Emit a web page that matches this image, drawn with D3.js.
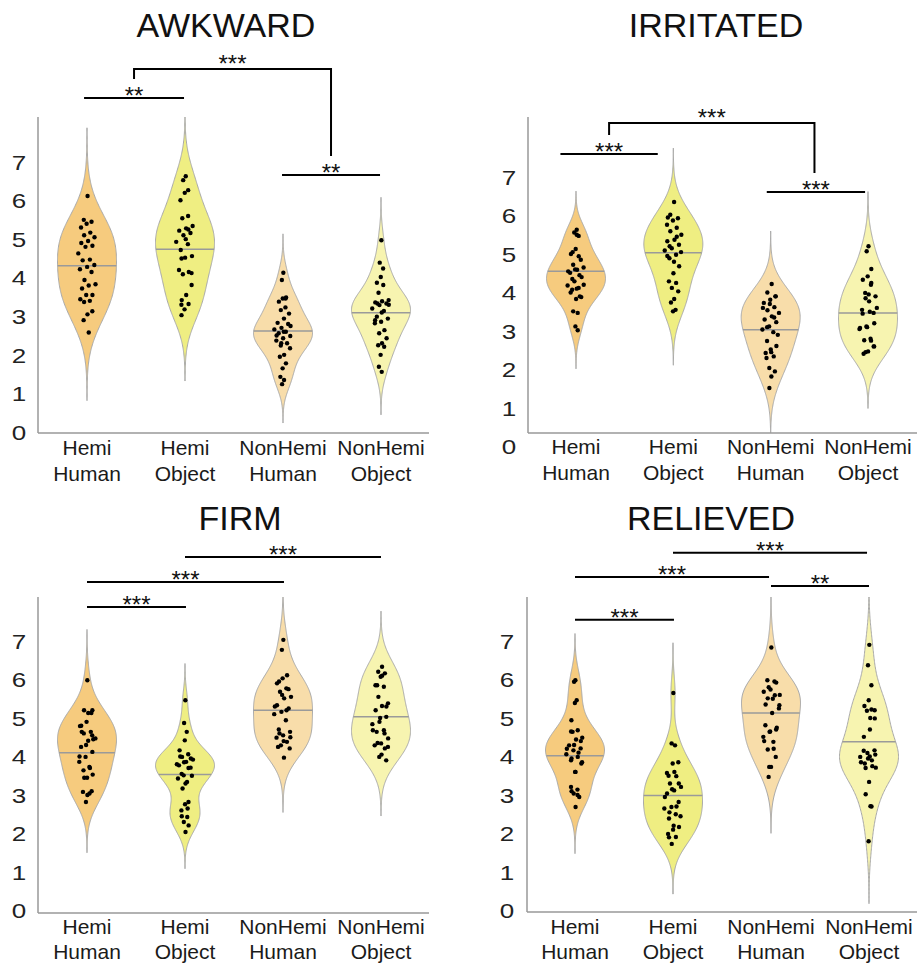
<!DOCTYPE html>
<html><head><meta charset="utf-8">
<script src="https://cdn.jsdelivr.net/npm/d3@7"></script>
<style>
body{margin:0;background:#fff}
svg{display:block}
text{font-family:"Liberation Sans",Arial,Helvetica,sans-serif;fill:#1a1a1a}
</style>
</head><body>
<svg id="c" width="919" height="966"></svg>
<script>
// ---------------- DATA ----------------
const categories = ["Hemi Human", "Hemi Object", "NonHemi Human", "NonHemi Object"];
const catLine1 = ["Hemi", "Hemi", "NonHemi", "NonHemi"];
const catLine2 = ["Human", "Object", "Human", "Object"];
const titles = ["AWKWARD", "IRRITATED", "FIRM", "RELIEVED"];
const yTicks = [0, 1, 2, 3, 4, 5, 6, 7];
const fills = ["#F6CB7E", "#EFEE82", "#F8DDAA", "#F7F4B0"];

const awkwardHemiHuman = [6.12,5.5,5.45,5.4,5.3,5.17,5.1,5.05,4.95,4.9,4.83,4.8,4.63,4.47,4.45,4.33,4.28,4.22,4.15,3.94,3.83,3.8,3.72,3.55,3.55,3.44,3.4,3.37,3.13,3.05,2.9,2.58];
const awkwardHemiObject = [6.63,6.53,6.27,6.2,6.01,5.6,5.54,5.34,5.28,5.22,5.16,5.1,4.93,4.87,4.72,4.56,4.52,4.2,4.15,4.09,3.81,3.55,3.42,3.32,3.18,3.03,5.25,4.5,4.12,5.0,3.3];
const awkwardNonHemiHuman = [4.13,3.94,3.49,3.46,3.38,3.23,3.16,3.07,2.94,2.83,2.8,2.7,2.66,2.6,2.56,2.49,2.43,2.37,2.3,2.24,2.17,2.0,1.95,1.78,1.65,1.43,1.35,1.24,2.75,2.6,2.5,3.46,2.3];
const awkwardNonHemiObject = [4.97,4.39,4.24,4.02,3.87,3.81,3.61,3.42,3.39,3.36,3.33,3.29,3.2,3.14,2.99,2.94,2.86,2.82,2.64,2.56,2.43,2.3,2.25,2.21,2.0,1.69,1.56,3.33,3.3,3.1,2.9];
const awkwardMedians = [4.31, 4.74, 2.62, 3.09];
const awkwardSig = [
  {from: -0.03, to: 0.99, label: "**", level: 8.66},
  {from: 1.99, to: 2.99, label: "**", level: 6.66}
];
const awkwardBracket = {from: 0.48, to: 2.49, label: "***", level: 9.41};

const irritatedHemiHuman = [5.63,5.56,5.47,5.13,5.0,4.94,4.72,4.65,4.59,4.51,4.4,4.29,4.18,4.12,4.07,3.88,3.83,3.51,3.47,3.12,3.02,5.5,5.05,4.85,4.6,4.55,4.45,4.35,4.2,4.1,4.0,3.9];
const irritatedHemiObject = [6.35,6.02,5.93,5.87,5.76,5.68,5.59,5.5,5.37,5.33,5.24,5.15,5.09,4.98,4.89,4.68,4.5,4.29,4.25,4.12,4.03,3.83,3.74,3.55,3.51,5.95,5.45,5.2,5.05,4.8,4.95];
const irritatedNonHemiHuman = [4.22,4.0,3.9,3.81,3.73,3.62,3.54,3.47,3.38,3.3,3.23,3.12,3.04,2.97,2.74,2.61,2.52,2.43,2.34,2.04,1.95,1.82,1.52,3.9,3.7,3.6,3.35,3.1,2.9,2.45,2.3];
const irritatedNonHemiObject = [5.2,5.07,4.61,4.42,4.33,4.2,3.99,3.9,3.77,3.55,3.47,3.12,3.05,2.8,2.76,2.6,2.47,2.41,4.25,3.85,3.6,3.5,3.45,3.2,3.1,3.08,2.75,2.45,2.6,3.95];
const irritatedMedians = [4.55, 5.03, 3.03, 3.47];
const irritatedSig = [
  {from: -0.16, to: 0.84, label: "***", level: 7.6},
  {from: 1.96, to: 2.97, label: "***", level: 6.61}
];
const irritatedBracket = {from: 0.34, to: 2.45, label: "***", level: 8.4};

const firmHemiHuman = [5.98,5.2,5.13,4.9,4.79,4.64,4.6,4.47,4.41,4.25,4.12,3.99,3.86,3.73,3.64,3.53,3.45,3.08,3.04,2.82,5.2,5.13,4.64,4.45,4.3,4.0,3.7,3.45,3.1,3.0,4.8,4.55];
const firmHemiObject = [5.46,4.87,4.64,4.42,4.16,4.06,3.99,3.92,3.86,3.77,3.71,3.51,3.43,3.34,3.17,2.82,2.76,2.6,2.43,2.3,2.21,2.04,4.0,3.95,3.85,3.8,3.7,3.55,3.5,3.3,2.45,2.65];
const firmNonHemiHuman = [7.03,6.77,6.11,6.03,5.9,5.77,5.68,5.55,5.51,5.33,5.25,5.16,5.1,4.94,4.7,4.64,4.55,4.49,4.38,4.29,4.21,3.97,5.95,5.75,5.6,5.3,5.2,4.6,4.5,4.4,4.25];
const firmNonHemiObject = [6.33,6.2,6.16,6.07,5.85,5.81,5.55,5.38,5.31,5.2,5.03,4.9,4.84,4.68,4.64,4.47,4.34,4.29,4.21,3.99,3.9,6.1,5.85,5.3,5.0,4.68,4.6,4.35,4.25,4.05];
const firmMedians = [4.1, 3.53, 5.2, 5.03];
const firmSig = [
  {from: 0, to: 1.01, label: "***", level: 7.88},
  {from: 0, to: 2.01, label: "***", level: 8.53},
  {from: 1, to: 3, label: "***", level: 9.18}
];

const relievedHemiHuman = [5.98,5.94,5.46,5.39,4.94,4.68,4.64,4.49,4.44,4.29,4.21,4.16,4.06,3.99,3.9,3.82,3.6,3.21,3.14,3.04,2.95,2.69,4.65,4.4,4.3,4.2,4.1,3.95,3.85,3.6,3.1,3.0];
const relievedHemiObject = [5.65,4.34,4.29,3.82,3.57,3.49,3.3,3.21,3.12,3.04,2.82,2.69,2.65,2.5,2.39,2.17,2.1,1.99,1.91,1.73,3.85,3.6,3.5,3.3,3.15,2.95,2.7,2.55,2.45,2.2,1.9];
const relievedNonHemiHuman = [6.83,5.98,5.92,5.74,5.68,5.59,5.51,5.33,5.13,4.81,4.7,4.64,4.51,4.38,4.18,3.99,3.73,3.47,5.95,5.8,5.6,5.5,5.35,4.75,4.65,4.4,4.2,3.73,5.25];
const relievedNonHemiObject = [6.9,6.37,5.85,5.46,5.31,5.22,5.19,4.99,4.7,4.51,4.16,4.09,3.99,3.9,3.82,3.71,3.34,3.02,2.71,1.8,5.2,5.0,4.15,4.05,3.95,3.85,3.75,3.7,2.7,4.0];
const relievedMedians = [4.02, 2.99, 5.13, 4.38];
const relievedSig = [
  {from: 0, to: 1.01, label: "***", level: 7.55},
  {from: 0, to: 1.98, label: "***", level: 8.66},
  {from: 2.0, to: 3.0, label: "**", level: 8.43},
  {from: 1, to: 2.98, label: "***", level: 9.29}
];

// ---------------- LAYOUT ----------------
const panels = [
  {title: titles[0], groups: [awkwardHemiHuman, awkwardHemiObject, awkwardNonHemiHuman, awkwardNonHemiObject],
   medians: awkwardMedians, sig: awkwardSig, bracket: awkwardBracket,
   L: {axisX: 38, top: 117, base: 433, right: 429, y0: 432, y7: 162, c0: 87, c3: 381, tickX: 19, lab1: 455, lab2: 481, titleX: 226, titleY: 37}},
  {title: titles[1], groups: [irritatedHemiHuman, irritatedHemiObject, irritatedNonHemiHuman, irritatedNonHemiObject],
   medians: irritatedMedians, sig: irritatedSig, bracket: irritatedBracket,
   L: {axisX: 528, top: 117, base: 433, right: 917, y0: 446.5, y7: 177, c0: 576, c3: 868, tickX: 509, lab1: 454, lab2: 480, titleX: 716, titleY: 37}},
  {title: titles[2], groups: [firmHemiHuman, firmHemiObject, firmNonHemiHuman, firmNonHemiObject],
   medians: firmMedians, sig: firmSig, bracket: null,
   L: {axisX: 38, top: 597, base: 913, right: 429, y0: 910.5, y7: 641, c0: 87, c3: 381, tickX: 19, lab1: 934, lab2: 959, titleX: 240, titleY: 530}},
  {title: titles[3], groups: [relievedHemiHuman, relievedHemiObject, relievedNonHemiHuman, relievedNonHemiObject],
   medians: relievedMedians, sig: relievedSig, bracket: null,
   L: {axisX: 527, top: 597, base: 912, right: 917, y0: 910.5, y7: 641, c0: 575, c3: 869, tickX: 507, lab1: 934, lab2: 959, titleX: 711, titleY: 530}}
];

const W = 29.5; // max half-width of a violin
const svg = d3.select("#c");

function kde(data) {
  const n = data.length;
  const med = d3.median(data);
  const mad = d3.median(data.map(d => Math.abs(d - med)));
  const u = (mad / 0.6745) * Math.pow(4 / (3 * n), 0.2);
  const lo = d3.min(data) - 3 * u, hi = d3.max(data) + 3 * u;
  const pts = d3.range(241).map(i => lo + (hi - lo) * i / 240);
  const dens = pts.map(x => d3.sum(data, d => Math.exp(-0.5 * ((x - d) / u) ** 2)));
  const m = d3.max(dens);
  return pts.map((v, i) => ({v, w: dens[i] / m}));
}
function widthAt(prof, v) {
  if (v <= prof[0].v || v >= prof[prof.length - 1].v) return 0;
  const i = d3.bisector(d => d.v).left(prof, v);
  const a = prof[i - 1], b = prof[i];
  const t = (v - a.v) / (b.v - a.v);
  return a.w + (b.w - a.w) * t;
}

panels.forEach((P, pi) => {
  const L = P.L;
  const y = d3.scaleLinear().domain([0, 7]).range([L.y0, L.y7]);
  const x = d3.scalePoint().domain(categories).range([L.c0, L.c3]);
  const xi = d3.scaleLinear().domain([0, 3]).range([L.c0, L.c3]);
  const g = svg.append("g");

  // title
  g.append("text").attr("x", L.titleX).attr("y", L.titleY).attr("text-anchor", "middle")
    .style("font-size", "34px").style("fill", "#111").text(P.title);

  // clip
  const cid = "clip" + pi;
  svg.append("clipPath").attr("id", cid).append("rect")
    .attr("x", L.axisX).attr("y", L.top).attr("width", L.right - L.axisX).attr("height", L.base - L.top);

  const vg = g.append("g").attr("clip-path", `url(#${cid})`);
  P.groups.forEach((data, ci) => {
    const cx = x(categories[ci]);
    const prof = kde(data);
    const area = d3.area()
      .y(d => y(d.v))
      .x0(d => cx - W * d.w)
      .x1(d => cx + W * d.w);
    vg.append("path").datum(prof).attr("d", area)
      .attr("fill", fills[ci]).attr("stroke", "#a9a9a9").attr("stroke-width", 1);
    const mw = W * widthAt(prof, P.medians[ci]);
    vg.append("line").attr("x1", cx - mw).attr("x2", cx + mw)
      .attr("y1", y(P.medians[ci])).attr("y2", y(P.medians[ci]))
      .attr("stroke", "#9a9a9a").attr("stroke-width", 1.5);
    vg.selectAll(null).data(data).enter().append("circle")
      .attr("cx", (d, i) => {
        const s = (((i + 1) * 0.6180339887) % 1) * 2 - 1;
        return cx + s * 0.32 * W * Math.max(0.15, widthAt(prof, d));
      })
      .attr("cy", d => y(d))
      .attr("r", 2.2).attr("fill", "#000");
  });

  // axes lines
  g.append("line").attr("x1", L.axisX).attr("x2", L.axisX).attr("y1", L.top).attr("y2", L.base)
    .attr("stroke", "#999").attr("stroke-width", 1.5);
  g.append("line").attr("x1", L.axisX).attr("x2", L.right).attr("y1", L.base).attr("y2", L.base)
    .attr("stroke", "#999").attr("stroke-width", 1.5);

  // y tick labels via d3 axis
  const ya = g.append("g").attr("transform", `translate(${L.tickX},0)`)
    .call(d3.axisLeft(y).tickValues(yTicks).tickSize(0).tickFormat(d3.format("d")));
  ya.select(".domain").remove();
  ya.selectAll("text").attr("x", 0).attr("text-anchor", "middle").attr("dy", "0.36em")
    .attr("transform", "scale(1.3,1)")
    .style("font-size", "20px").style("fill", "#222").style("font-family", '"Liberation Sans",Arial,sans-serif');

  // category labels
  categories.forEach((c, ci) => {
    const t = g.append("text").attr("text-anchor", "middle").style("font-size", "21px").style("fill", "#1a1a1a");
    t.append("tspan").attr("x", x(c)).attr("y", L.lab1).text(catLine1[ci]);
    t.append("tspan").attr("x", x(c)).attr("y", L.lab2).text(catLine2[ci]);
  });

  // significance bars
  P.sig.forEach(s => {
    const yy = y(s.level);
    g.append("line").attr("x1", xi(s.from)).attr("x2", xi(s.to)).attr("y1", yy).attr("y2", yy)
      .attr("stroke", "#000").attr("stroke-width", 2);
    g.append("text").attr("x", (xi(s.from) + xi(s.to)) / 2).attr("y", yy + 6)
      .attr("text-anchor", "middle").style("font-size", "24px").style("fill", "#111").text(s.label);
  });
  if (P.bracket) {
    const b = P.bracket;
    const yt = y(b.level);
    const yl = y(P.sig[0].level) - 19, yr = y(P.sig[1].level) - 19;
    g.append("path")
      .attr("d", `M${xi(b.from)},${yl}V${yt}H${xi(b.to)}V${yr}`)
      .attr("fill", "none").attr("stroke", "#000").attr("stroke-width", 2);
    g.append("text").attr("x", (xi(b.from) + xi(b.to)) / 2).attr("y", yt + 3)
      .attr("text-anchor", "middle").style("font-size", "24px").style("fill", "#111").text(b.label);
  }
});
</script>
</body></html>
